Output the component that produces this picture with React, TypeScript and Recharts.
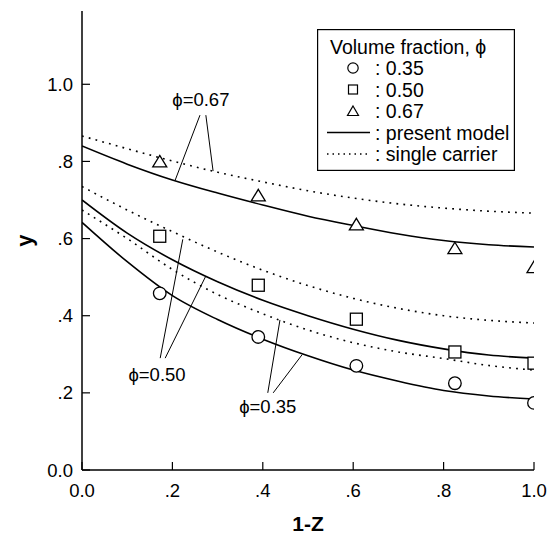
import React from "react";
import {
  ComposedChart,
  Legend,
  Line,
  ReferenceDot,
  ReferenceLine,
  Scatter,
  XAxis,
  YAxis,
} from "recharts";

// grid of 1-Z values the model curves are read at
const gridX = [0, 0.1, 0.2, 0.3, 0.4, 0.5, 0.6, 0.7, 0.8, 0.9, 1.0];

const presentModel035 = [0.642, 0.54, 0.452, 0.39, 0.339, 0.296, 0.259, 0.23, 0.206, 0.192, 0.184];
const singleCarrier035 = [0.674, 0.6, 0.52, 0.455, 0.405, 0.363, 0.33, 0.306, 0.289, 0.271, 0.259];
const presentModel050 = [0.7, 0.614, 0.545, 0.488, 0.44, 0.4, 0.365, 0.336, 0.314, 0.298, 0.29];
const singleCarrier050 = [0.735, 0.674, 0.618, 0.565, 0.518, 0.478, 0.445, 0.419, 0.4, 0.388, 0.381];
const presentModel067 = [0.84, 0.793, 0.752, 0.718, 0.687, 0.658, 0.634, 0.612, 0.595, 0.584, 0.578];
const singleCarrier067 = [0.866, 0.833, 0.801, 0.772, 0.747, 0.724, 0.705, 0.69, 0.679, 0.671, 0.666];

// measured points
const expX = [0.172, 0.39, 0.607, 0.825, 1.0];
const exp035 = [0.458, 0.345, 0.27, 0.225, 0.174];
const exp050 = [0.606, 0.479, 0.391, 0.306, 0.277];
const exp067 = [0.8, 0.712, 0.637, 0.575, 0.526];

const xTicks = [0, 0.2, 0.4, 0.6, 0.8, 1.0];
const xTickLabels = ["0.0", ".2", ".4", ".6", ".8", "1.0"];
const yTicks = [0, 0.2, 0.4, 0.6, 0.8, 1.0];
const yTickLabels = ["0.0", ".2", ".4", ".6", ".8", "1.0"];

// annotation labels and their leader lines (data coordinates)
const callouts = [
  {
    text: "ϕ=0.67",
    at: { x: 0.263, y: 0.961 },
    leaders: [
      [{ x: 0.261, y: 0.92 }, { x: 0.206, y: 0.751 }],
      [{ x: 0.274, y: 0.92 }, { x: 0.29, y: 0.775 }],
    ],
  },
  {
    text: "ϕ=0.50",
    at: { x: 0.166, y: 0.249 },
    leaders: [
      [{ x: 0.173, y: 0.29 }, { x: 0.223, y: 0.598 }],
      [{ x: 0.184, y: 0.29 }, { x: 0.274, y: 0.503 }],
    ],
  },
  {
    text: "ϕ=0.35",
    at: { x: 0.411, y: 0.166 },
    leaders: [
      [{ x: 0.411, y: 0.2 }, { x: 0.438, y: 0.389 }],
      [{ x: 0.423, y: 0.2 }, { x: 0.487, y: 0.299 }],
    ],
  },
];

const font = "'Liberation Sans', Arial, Helvetica, sans-serif";
const xDomain: [number, number] = [0, 1];
const yDomain: [number, number] = [0, 1.19];

const toPoints = (xs: number[], ys: number[]) => xs.map((x, i) => ({ x, y: ys[i] }));

const CircleMark = (p: any) => (
  <circle cx={p.cx} cy={p.cy} r={6.3} fill="#fff" stroke="#000" strokeWidth={1.3} />
);
const SquareMark = (p: any) => (
  <rect x={p.cx - 6} y={p.cy - 6} width={12} height={12} fill="#fff" stroke="#000" strokeWidth={1.3} />
);
const TriangleMark = (p: any) => (
  <polygon
    points={`${p.cx},${p.cy - 6} ${p.cx + 7},${p.cy + 5.5} ${p.cx - 7},${p.cy + 5.5}`}
    fill="#fff"
    stroke="#000"
    strokeWidth={1.3}
  />
);

const BottomTick = ({ x, y, index }: any) => (
  <g>
    <line x1={x} y1={y} x2={x} y2={y - 8} stroke="#000" strokeWidth={1.2} />
    <text x={x} y={y + 27} textAnchor="middle" fontFamily={font} fontSize={18.5} fill="#000">
      {xTickLabels[index]}
    </text>
  </g>
);
const LeftTick = ({ x, y, index }: any) => (
  <g>
    <line x1={x} y1={y} x2={x + 8} y2={y} stroke="#000" strokeWidth={1.2} />
    <text x={x - 9} y={y + 6.5} textAnchor="end" fontFamily={font} fontSize={18.5} fill="#000">
      {yTickLabels[index]}
    </text>
  </g>
);
const TopTick = ({ x, y }: any) => <line x1={x} y1={y} x2={x} y2={y + 8} stroke="#000" strokeWidth={1.2} />;
const RightTick = ({ x, y }: any) => <line x1={x} y1={y} x2={x - 8} y2={y} stroke="#000" strokeWidth={1.2} />;

const XTitle = ({ viewBox }: any) => (
  <text
    x={viewBox.x + viewBox.width / 2}
    y={viewBox.y + 61}
    textAnchor="middle"
    fontFamily={font}
    fontWeight="bold"
    fontSize={21}
    fill="#000"
  >
    1-Z
  </text>
);
const YTitle = ({ viewBox }: any) => {
  const cy = viewBox.y + viewBox.height / 2;
  return (
    <text
      x={24}
      y={cy}
      transform={`rotate(-90 24 ${cy})`}
      textAnchor="middle"
      dominantBaseline="central"
      fontFamily={font}
      fontWeight="bold"
      fontSize={22}
      fill="#000"
    >
      y
    </text>
  );
};

const legendRows = [
  { kind: "circle", label: ": 0.35" },
  { kind: "square", label: ": 0.50" },
  { kind: "triangle", label: ": 0.67" },
  { kind: "solid", label: ": present model" },
  { kind: "dotted", label: ": single carrier" },
];

function LegendBox() {
  return (
    <svg width={198} height={142} style={{ display: "block" }}>
      <rect x={0.6} y={0.6} width={196.8} height={140.8} fill="#fff" stroke="#000" strokeWidth={1.2} />
      <text x={13} y={25} fontFamily={font} fontSize={19.5} fill="#000">
        Volume fraction, ϕ
      </text>
      {legendRows.map((row, i) => {
        const cy = 39 + i * 21.5;
        let sym: React.ReactNode = null;
        if (row.kind === "circle") sym = <circle cx={36} cy={cy} r={5.2} fill="none" stroke="#000" strokeWidth={1.2} />;
        if (row.kind === "square")
          sym = <rect x={31.5} y={cy - 4.5} width={9} height={9} fill="none" stroke="#000" strokeWidth={1.2} />;
        if (row.kind === "triangle")
          sym = (
            <polygon
              points={`36,${cy - 5} 41.5,${cy + 4.5} 30.5,${cy + 4.5}`}
              fill="none"
              stroke="#000"
              strokeWidth={1.2}
            />
          );
        if (row.kind === "solid") sym = <line x1={10} x2={53} y1={cy} y2={cy} stroke="#000" strokeWidth={1.5} />;
        if (row.kind === "dotted")
          sym = <line x1={10} x2={53} y1={cy} y2={cy} stroke="#000" strokeWidth={1.4} strokeDasharray="1.5 4" />;
        return (
          <g key={row.label}>
            {sym}
            <text x={58} y={cy + 7} fontFamily={font} fontSize={19.5} fill="#000">
              {row.label}
            </text>
          </g>
        );
      })}
    </svg>
  );
}

const solid = { stroke: "#000", strokeWidth: 1.6 };
const dotted = { stroke: "#000", strokeWidth: 1.6, strokeDasharray: "1.8 5.2" };

const curves = [
  { key: "pm035", ys: presentModel035, style: solid },
  { key: "sc035", ys: singleCarrier035, style: dotted },
  { key: "pm050", ys: presentModel050, style: solid },
  { key: "sc050", ys: singleCarrier050, style: dotted },
  { key: "pm067", ys: presentModel067, style: solid },
  { key: "sc067", ys: singleCarrier067, style: dotted },
];

export default function App() {
  return (
    <div style={{ width: 552, height: 537, background: "#fff" }}>
      <style>{"body{margin:0;background:#fff}"}</style>
      <ComposedChart width={552} height={537} margin={{ top: 11, right: 18, bottom: 0, left: 0 }}>
        <XAxis
          type="number"
          dataKey="x"
          domain={xDomain}
          ticks={xTicks}
          height={67}
          tickSize={0}
          tickMargin={0}
          tickLine={false}
          tick={<BottomTick />}
          axisLine={{ stroke: "#000", strokeWidth: 1.5 }}
          allowDataOverflow
          label={<XTitle />}
        />
        <XAxis
          xAxisId="top"
          orientation="top"
          type="number"
          domain={xDomain}
          ticks={xTicks}
          height={0}
          tickSize={0}
          tickMargin={0}
          tickLine={false}
          tick={<TopTick />}
          axisLine={{ stroke: "#000", strokeWidth: 1.5 }}
          allowDataOverflow
        />
        <YAxis
          type="number"
          dataKey="y"
          domain={yDomain}
          ticks={yTicks}
          width={82}
          tickSize={0}
          tickMargin={0}
          tickLine={false}
          tick={<LeftTick />}
          axisLine={{ stroke: "#000", strokeWidth: 1.5 }}
          allowDataOverflow
          label={<YTitle />}
        />
        <YAxis
          yAxisId="right"
          orientation="right"
          type="number"
          domain={yDomain}
          ticks={yTicks}
          width={0}
          tickSize={0}
          tickMargin={0}
          tickLine={false}
          tick={<RightTick />}
          axisLine={{ stroke: "#000", strokeWidth: 1.5 }}
          allowDataOverflow
        />
        {curves.map((c) => (
          <Line
            key={c.key}
            data={toPoints(gridX, c.ys)}
            dataKey="y"
            type="monotone"
            dot={false}
            activeDot={false}
            isAnimationActive={false}
            {...c.style}
          />
        ))}
        {callouts.map((c) =>
          c.leaders.map((seg, i) => (
            <ReferenceLine
              key={`${c.text}-${i}`}
              segment={seg}
              stroke="#000"
              strokeWidth={1}
              ifOverflow="visible"
            />
          )),
        )}
        {callouts.map((c) => (
          <ReferenceDot
            key={c.text}
            x={c.at.x}
            y={c.at.y}
            r={0}
            fill="none"
            stroke="none"
            ifOverflow="visible"
            label={{ value: c.text, position: "center", fill: "#000", fontSize: 18.5, fontFamily: font }}
          />
        ))}
        <Scatter data={toPoints(expX, exp035)} shape={<CircleMark />} isAnimationActive={false} />
        <Scatter data={toPoints(expX, exp050)} shape={<SquareMark />} isAnimationActive={false} />
        <Scatter data={toPoints(expX, exp067)} shape={<TriangleMark />} isAnimationActive={false} />
        <Legend
          layout="horizontal"
          verticalAlign="middle"
          align="center"
          content={() => <LegendBox />}
          wrapperStyle={{ left: 317, top: 29, width: 198, height: 142 }}
        />
      </ComposedChart>
    </div>
  );
}
